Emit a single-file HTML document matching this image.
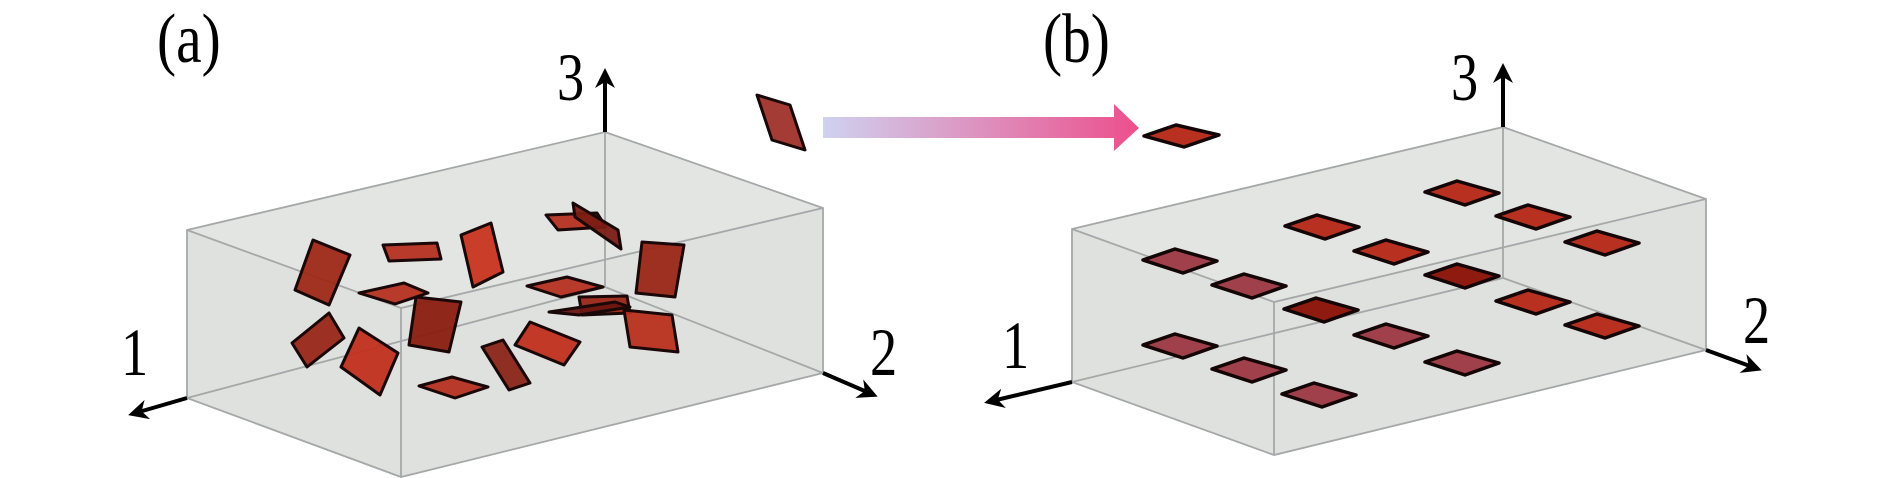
<!DOCTYPE html>
<html><head><style>
html,body{margin:0;padding:0;background:#fff;}
svg{display:block;}
text{font-family:"Liberation Serif",serif;fill:#000;}
</style></head><body>
<svg width="1890" height="478" viewBox="0 0 1890 478" xmlns="http://www.w3.org/2000/svg">
<defs>
<linearGradient id="ag" x1="0" x2="1" y1="0" y2="0">
<stop offset="0" stop-color="#cfd2f0"/><stop offset="1" stop-color="#ec4f8c"/>
</linearGradient>
<marker id="ah" viewBox="0 0 10 10" refX="8" refY="5" markerWidth="5" markerHeight="5" orient="auto">
<path d="M0,0 L10,5 L0,10 L3,5 Z" fill="#000"/>
</marker>
</defs>

<!-- Box (a) -->
<polygon points="187,230 605,132 823,208 823,373 401,477 187,398" fill="#dfe1df"/>
<polygon points="187,230 605,132 823,208 401,308" fill="#e3e5e3"/>
<g stroke="#a4a8a8" stroke-width="1.8" fill="none">
<polygon points="187,230 605,132 823,208 823,373 401,477 187,398"/>
<polyline points="187,230 401,308 823,208"/>
<line x1="401" y1="308" x2="401" y2="477"/>
<line x1="605" y1="132" x2="605" y2="287"/>
<polyline points="187,398 605,287 823,373"/>
</g>
<g stroke="#000" stroke-width="4" marker-end="url(#ah)">
<line x1="605" y1="132" x2="605" y2="72"/>
<line x1="187" y1="398" x2="132" y2="414"/>
<line x1="823" y1="373" x2="874" y2="395"/>
</g>
<text transform="translate(157,62) scale(0.82,1)" font-size="70">(a)</text>
<text transform="translate(557,100) scale(0.8,1)" font-size="68">3</text>
<text transform="translate(121,375) scale(0.8,1)" font-size="68">1</text>
<text transform="translate(870,375) scale(0.8,1)" font-size="68">2</text>

<g fill="#b53020" fill-opacity="0.95" stroke="#1a0808" stroke-width="3" stroke-linejoin="round">
<polygon points="313,240 350,255 329,305 295,290" fill="#9e2816"/>
<polygon points="383,245 437,243 441,259 389,261"/>
<polygon points="461,235 491,223 503,272 473,287" fill="#c8351f"/>
<polygon points="546,215 597,213 606,227 558,230"/>
<polygon points="573,203 618,230 621,249 575,217" fill="#7a1c14"/>
<polygon points="642,242 684,245 675,297 636,293" fill="#9a2616"/>
<polygon points="527,286 567,277 603,287 561,297"/>
<polygon points="359,293 404,283 428,293 395,304"/>
<polygon points="416,297 461,302 449,352 409,345" fill="#8a1e10"/>
<polygon points="579,297 627,296 630,313 582,315" fill="#9a2616"/>
<polygon points="549,312 615,302 630,307 579,315" fill="#6a1610"/>
<polygon points="624,310 672,315 678,352 630,347" fill="#b8301c"/>
<polygon points="292,343 329,313 344,338 307,367" fill="#982618"/>
<polygon points="359,328 398,353 380,395 341,367" fill="#c0301c"/>
<polygon points="530,322 580,342 564,365 515,345" fill="#c0301c"/>
<polygon points="482,347 503,340 530,383 509,390" fill="#8a2418"/>
<polygon points="419,386 452,377 488,387 455,398"/>
<polygon points="757,95 790,105 805,150 772,140" fill="#a0302a"/>
</g>

<!-- Arrow -->
<polygon points="823,117 1114,117 1114,104 1139,128 1114,151 1114,138 823,138" fill="url(#ag)"/>

<!-- Box (b) -->
<polygon points="1072,229 1503,127 1706,199 1706,350 1274,455 1072,382" fill="#dfe1df"/>
<polygon points="1072,229 1503,127 1706,199 1274,302" fill="#e3e5e3"/>
<g stroke="#a4a8a8" stroke-width="1.8" fill="none">
<polygon points="1072,229 1503,127 1706,199 1706,350 1274,455 1072,382"/>
<polyline points="1072,229 1274,302 1706,199"/>
<line x1="1274" y1="302" x2="1274" y2="455"/>
<line x1="1503" y1="127" x2="1503" y2="278"/>
<polyline points="1072,382 1503,278 1706,350"/>
</g>
<g stroke="#000" stroke-width="4" marker-end="url(#ah)">
<line x1="1503" y1="127" x2="1503" y2="67"/>
<line x1="1072" y1="382" x2="988" y2="402"/>
<line x1="1706" y1="350" x2="1758" y2="369"/>
</g>
<text transform="translate(1043,62) scale(0.82,1)" font-size="70">(b)</text>
<text transform="translate(1451,100) scale(0.8,1)" font-size="68">3</text>
<text transform="translate(1002,368) scale(0.8,1)" font-size="68">1</text>
<text transform="translate(1743,343) scale(0.8,1)" font-size="68">2</text>

<g stroke="#140606" stroke-width="3.5" stroke-linejoin="round">
<g fill="#b83020">
<polygon points="1144,136 1176,125 1219,135 1184,147"/>
<polygon points="1425,192 1457,181 1499,193 1465,205"/>
<polygon points="1496,216 1528,205 1570,217 1536,229"/>
<polygon points="1285,226 1317,215 1359,227 1325,239"/>
<polygon points="1354,251 1386,240 1428,252 1394,264"/>
<polygon points="1565,242 1597,231 1639,243 1605,255"/>
<polygon points="1496,301 1528,290 1570,302 1536,314"/>
<polygon points="1565,325 1597,314 1639,326 1605,338"/>
</g>
<g fill="#8e1a10">
<polygon points="1425,275 1457,264 1499,276 1465,288"/>
<polygon points="1284,309 1316,298 1358,310 1324,322"/>
</g>
<g fill="#a0404a">
<polygon points="1143,260 1175,249 1217,261 1183,273"/>
<polygon points="1212,285 1244,274 1286,286 1252,298"/>
<polygon points="1143,345 1175,334 1217,346 1183,358"/>
<polygon points="1354,335 1386,324 1428,336 1394,348"/>
<polygon points="1212,369 1244,358 1286,370 1252,382"/>
<polygon points="1425,362 1457,351 1499,363 1465,375"/>
<polygon points="1282,394 1314,383 1356,395 1322,407"/>
</g>
</g>
</svg>
</body></html>
